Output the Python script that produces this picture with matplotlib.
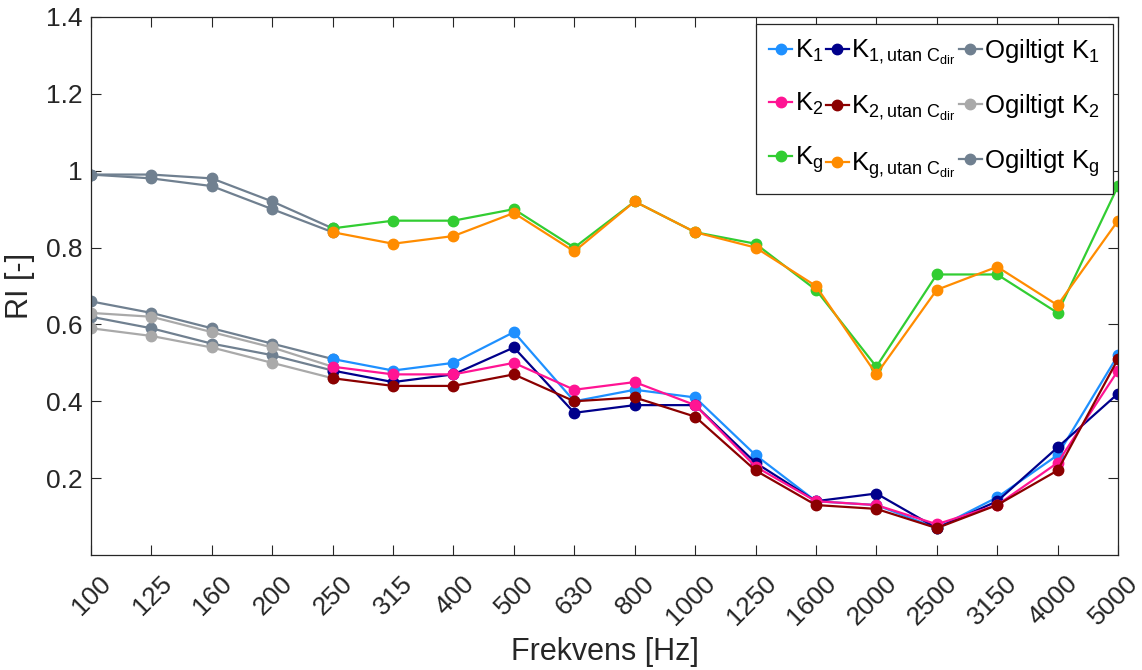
import matplotlib
matplotlib.use("Agg")
import matplotlib.pyplot as plt
import matplotlib.transforms as mtransforms
import numpy as np

plt.rcParams['font.family'] = ['Liberation Sans', 'DejaVu Sans']
plt.rcParams['mathtext.fontset'] = 'custom'
plt.rcParams['mathtext.rm'] = 'Liberation Sans'
plt.rcParams['mathtext.it'] = 'Liberation Sans'
plt.rcParams['mathtext.bf'] = 'Liberation Sans'

freq_labels = ['100', '125', '160', '200', '250', '315', '400', '500', '630', '800',
               '1000', '1250', '1600', '2000', '2500', '3150', '4000', '5000']

# valid range: 250 .. 5000 Hz
K1      = [0.51, 0.48, 0.50, 0.58, 0.40, 0.43, 0.41, 0.26, 0.14, 0.13, 0.07, 0.15, 0.26, 0.52]
K1_utan = [0.48, 0.45, 0.47, 0.54, 0.37, 0.39, 0.39, 0.24, 0.14, 0.16, 0.07, 0.14, 0.28, 0.42]
K2      = [0.49, 0.47, 0.47, 0.50, 0.43, 0.45, 0.39, 0.23, 0.14, 0.13, 0.08, 0.13, 0.24, 0.48]
K2_utan = [0.46, 0.44, 0.44, 0.47, 0.40, 0.41, 0.36, 0.22, 0.13, 0.12, 0.07, 0.13, 0.22, 0.51]
Kg      = [0.85, 0.87, 0.87, 0.90, 0.80, 0.92, 0.84, 0.81, 0.69, 0.49, 0.73, 0.73, 0.63, 0.96]
Kg_utan = [0.84, 0.81, 0.83, 0.89, 0.79, 0.92, 0.84, 0.80, 0.70, 0.47, 0.69, 0.75, 0.65, 0.87]

# invalid range: 100 .. 250 Hz
Ogiltigt_K1      = [0.66, 0.63, 0.59, 0.55, 0.51]
Ogiltigt_K1_utan = [0.62, 0.59, 0.55, 0.52, 0.48]
Ogiltigt_K2      = [0.63, 0.62, 0.58, 0.54, 0.49]
Ogiltigt_K2_utan = [0.59, 0.57, 0.54, 0.50, 0.46]
Ogiltigt_Kg      = [0.99, 0.99, 0.98, 0.92, 0.85]
Ogiltigt_Kg_utan = [0.99, 0.98, 0.96, 0.90, 0.84]

x_all = np.arange(len(freq_labels))
x_valid = x_all[4:]
x_inv = x_all[:5]

c_k1 = '#1E90FF'
c_k1u = '#00008B'
c_k2 = '#FF1493'
c_k2u = '#8B0000'
c_kg = '#32CD32'
c_kgu = '#FF8C00'
c_slate = '#708090'
c_lgrey = '#A9A9A9'

fig = plt.figure(figsize=(11.42, 6.70), dpi=100)
ax = fig.add_axes([91/1142, 1 - 555/670, (1118-91)/1142, (555-17)/670])

kw = dict(marker='o', markersize=7.5, linewidth=1.6)
o1, = ax.plot(x_inv, Ogiltigt_K1, color=c_slate, **kw)
ax.plot(x_inv, Ogiltigt_K1_utan, color=c_slate, **kw)
o2, = ax.plot(x_inv, Ogiltigt_K2, color=c_lgrey, **kw)
ax.plot(x_inv, Ogiltigt_K2_utan, color=c_lgrey, **kw)
og, = ax.plot(x_inv, Ogiltigt_Kg, color=c_slate, **kw)
ax.plot(x_inv, Ogiltigt_Kg_utan, color=c_slate, **kw)

h1, = ax.plot(x_valid, K1, color=c_k1, **kw)
h1u, = ax.plot(x_valid, K1_utan, color=c_k1u, **kw)
h2, = ax.plot(x_valid, K2, color=c_k2, **kw)
h2u, = ax.plot(x_valid, K2_utan, color=c_k2u, **kw)
hg, = ax.plot(x_valid, Kg, color=c_kg, **kw)
hgu, = ax.plot(x_valid, Kg_utan, color=c_kgu, **kw)

ax.set_xlim(0, len(freq_labels) - 1)
ax.set_ylim(0.0, 1.4)
ax.set_xticks(x_all)
ax.set_xticklabels(freq_labels, rotation=45, ha='right', rotation_mode='anchor')
ax.set_yticks([0.2, 0.4, 0.6, 0.8, 1.0, 1.2, 1.4])
ax.set_yticklabels(['0.2', '0.4', '0.6', '0.8', '1', '1.2', '1.4'])

spine_c = '#262626'
for s in ax.spines.values():
    s.set_color(spine_c)
    s.set_linewidth(0.9)
ax.tick_params(axis='both', which='both', direction='in', length=7, width=0.8,
               colors=spine_c, labelsize=19, top=True, right=True, pad=6)
for lab in ax.get_xticklabels() + ax.get_yticklabels():
    lab.set_color('#262626')

offset = mtransforms.ScaledTranslation(8/100, -8/100, fig.dpi_scale_trans)
for lab in ax.get_xticklabels():
    lab.set_transform(lab.get_transform() + offset)

ax.set_xlabel('Frekvens [Hz]', fontsize=22, color='#262626', labelpad=5)
ax.set_ylabel('RI [-]', fontsize=22, color='#262626', labelpad=8)

handles = [h1, h2, hg, h1u, h2u, hgu, o1, o2, og]
labels = [r'K$_1$', r'K$_2$', r'K$_g$',
          r'K$_{\mathrm{1,utan\ C}_{\mathrm{dir}}}$',
          r'K$_{\mathrm{2,utan\ C}_{\mathrm{dir}}}$',
          r'K$_{\mathrm{g,utan\ C}_{\mathrm{dir}}}$',
          r'Ogiltigt K$_1$', r'Ogiltigt K$_2$', r'Ogiltigt K$_g$']
leg = ax.legend(handles, labels, ncol=3, loc='upper right',
                bbox_to_anchor=(1113/1142, 1 - 24/670), bbox_transform=fig.transFigure,
                fontsize=18.5, handlelength=0.9, handletextpad=0.1, columnspacing=0.1,
                labelspacing=1.05, borderpad=0.5, fancybox=False, framealpha=1,
                edgecolor='#262626', markerscale=1.0, borderaxespad=0)
leg.get_frame().set_linewidth(0.9)

fig.savefig('out.png', dpi=100)
